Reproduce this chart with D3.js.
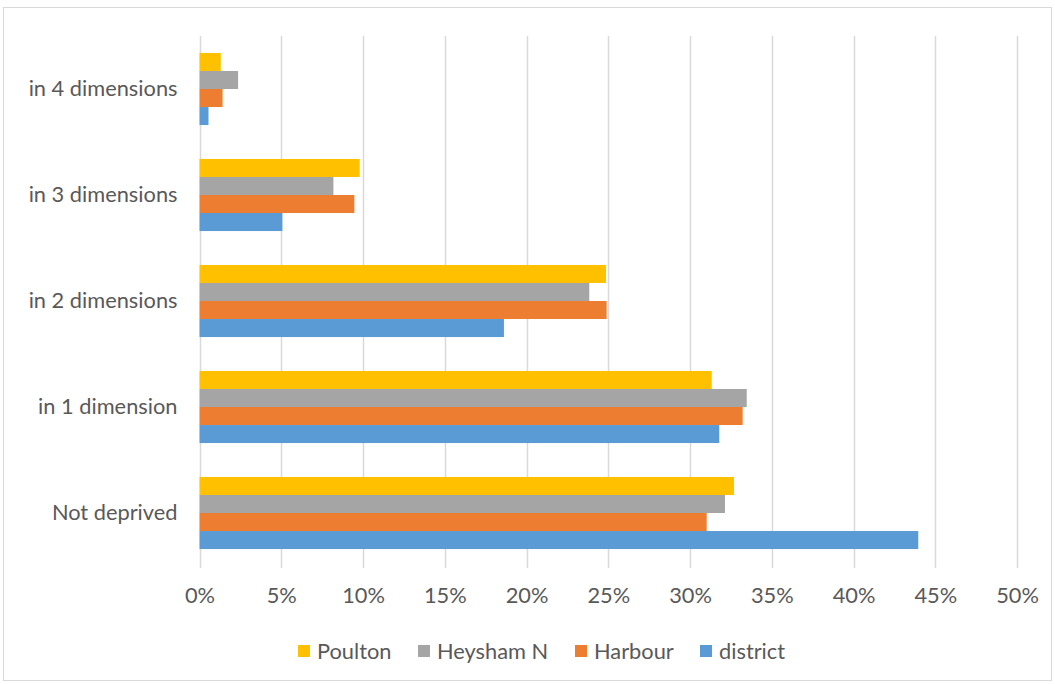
<html>
<head>
<script src="https://d3js.org/d3.v7.min.js"></script>
<style>
  body { margin: 0; background: #fff; }
  svg { display: block; }
</style>
</head>
<body>
<div id="chart"></div>
<script>
// categories top to bottom
var categories = ["in 4 dimensions", "in 3 dimensions", "in 2 dimensions", "in 1 dimension", "Not deprived"];
var seriesNames = ["Poulton", "Heysham N", "Harbour", "district"];
var seriesColors = ["#FFC000", "#A5A5A5", "#ED7D31", "#5B9BD5"];

// percentages, same order as categories
var poulton  = [1.3, 9.8, 24.86, 31.33, 32.69];
var heyshamN = [2.36, 8.19, 23.84, 33.47, 32.14];
var harbour  = [1.41, 9.47, 24.9, 33.22, 31.02];
var district = [0.55, 5.07, 18.62, 31.79, 43.96];

var xTicks = [0, 5, 10, 15, 20, 25, 30, 35, 40, 45, 50];

var allSeries = [poulton, heyshamN, harbour, district];

var W = 1055, H = 684;
var svg = d3.select("#chart").append("svg").attr("width", W).attr("height", H);

var font = "Lato, sans-serif";
var fs = 21.8;
var textColor = "#595959";

svg.append("rect")
  .attr("x", 3.5).attr("y", 7.5).attr("width", 1048).attr("height", 673)
  .attr("fill", "#fff").attr("stroke", "#d9d9d9").attr("stroke-width", 1);

var x = d3.scaleLinear().domain([0, 50]).range([199.5, 1017]);
var y = d3.scaleBand().domain(categories).range([36, 566]).paddingInner(0.32).paddingOuter(0.16);
var y1 = d3.scaleBand().domain(seriesNames).range([0, y.bandwidth()]);

// gridlines
svg.append("g").selectAll("line").data(xTicks).enter().append("line")
  .attr("x1", function(d) { return Math.round(x(d)) + 0.5; })
  .attr("x2", function(d) { return Math.round(x(d)) + 0.5; })
  .attr("y1", 36).attr("y2", 568)
  .attr("stroke", "#d9d9d9").attr("stroke-width", 1.5);

// bars
var groups = svg.append("g").selectAll("g").data(categories).enter().append("g")
  .attr("transform", function(d) { return "translate(0," + y(d) + ")"; });

groups.selectAll("rect")
  .data(function(c, ci) {
    return seriesNames.map(function(s, si) { return { s: s, v: allSeries[si][ci], color: seriesColors[si] }; });
  })
  .enter().append("rect")
  .attr("x", x(0))
  .attr("y", function(d) { return y1(d.s); })
  .attr("width", function(d) { return x(d.v) - x(0); })
  .attr("height", y1.bandwidth())
  .attr("fill", function(d) { return d.color; });

// x axis labels
var xAxis = d3.axisBottom(x).tickValues(xTicks).tickSize(0).tickFormat(function(d) { return d + "%"; });
var gx = svg.append("g").attr("transform", "translate(0,585)").call(xAxis);
gx.select(".domain").remove();
gx.selectAll("text").attr("font-family", font).attr("font-size", fs).attr("fill", textColor);

// y labels
var yAxis = d3.axisLeft(y).tickSize(0).tickPadding(22);
var gy = svg.append("g").attr("transform", "translate(" + x(0) + ",0)").call(yAxis);
gy.select(".domain").remove();
gy.selectAll("text").attr("font-family", font).attr("font-size", fs).attr("fill", textColor);

// legend
var legendX = [298, 418, 575, 700];
var leg = svg.append("g").selectAll("g").data(seriesNames).enter().append("g")
  .attr("transform", function(d, i) { return "translate(" + legendX[i] + ",651)"; });
leg.append("rect").attr("x", 0).attr("y", -6).attr("width", 12).attr("height", 12)
  .attr("fill", function(d, i) { return seriesColors[i]; });
leg.append("text").attr("x", 19).attr("y", 0).attr("dy", "0.35em")
  .attr("font-family", font).attr("font-size", fs).attr("fill", textColor)
  .text(function(d) { return d; });
</script>
</body>
</html>
